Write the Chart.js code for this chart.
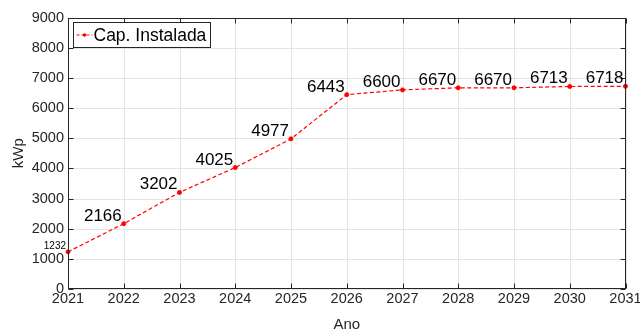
<!DOCTYPE html>
<html>
<head>
<meta charset="utf-8">
<script src="https://cdn.jsdelivr.net/npm/chart.js@4/dist/chart.umd.min.js"></script>
<style>
  html, body { margin: 0; padding: 0; background: #fff; }
  #wrap { width: 640px; height: 331px; position: relative; }
</style>
</head>
<body>
<div id="wrap"><canvas id="c" width="640" height="331"></canvas></div>
<script>
// Installed capacity per year
const years = [2021, 2022, 2023, 2024, 2025, 2026, 2027, 2028, 2029, 2030, 2031];
const capacity = [1232, 2166, 3202, 4025, 4977, 6443, 6600, 6670, 6670, 6713, 6718];
const xTicks = [2021, 2022, 2023, 2024, 2025, 2026, 2027, 2028, 2029, 2030, 2031];
const yTicks = [0, 1000, 2000, 3000, 4000, 5000, 6000, 7000, 8000, 9000];
const seriesName = 'Cap. Instalada';
const xTitle = 'Ano';
const yTitle = 'kWp';

const FONT = '"Liberation Sans", Arial, Helvetica, sans-serif';
const AXIS_COLOR = '#262626';
const GRID_COLOR = '#e5e5e5';
const RED = '#ff0000';

// Frame, inward ticks, axis titles, value labels and legend
const matlabAxes = {
  id: 'matlabAxes',
  beforeDatasetsDraw(chart) {
    const { ctx, chartArea: a, scales: { x, y } } = chart;
    ctx.save();
    ctx.strokeStyle = GRID_COLOR;
    ctx.lineWidth = 1;
    ctx.beginPath();
    xTicks.forEach(v => { const px = Math.round(x.getPixelForValue(v)) + 0.5; ctx.moveTo(px, a.top); ctx.lineTo(px, a.bottom); });
    yTicks.forEach(v => { const py = Math.round(y.getPixelForValue(v)) + 0.5; ctx.moveTo(a.left, py); ctx.lineTo(a.right, py); });
    ctx.stroke();
    ctx.restore();
  },
  afterDatasetsDraw(chart) {
    const { ctx, chartArea: a, scales: { x, y } } = chart;
    ctx.save();
    // box
    ctx.strokeStyle = AXIS_COLOR;
    ctx.lineWidth = 1;
    const L = Math.round(a.left) + 0.5, R = Math.round(a.right) - 0.5;
    const T = Math.round(a.top) + 0.5, B = Math.round(a.bottom) - 0.5;
    ctx.strokeRect(L, T, R - L, B - T);
    // inward ticks
    const tl = 5;
    ctx.beginPath();
    xTicks.forEach(v => {
      const px = Math.round(x.getPixelForValue(v)) + 0.5;
      ctx.moveTo(px, B); ctx.lineTo(px, B - tl);
      ctx.moveTo(px, T); ctx.lineTo(px, T + tl);
    });
    yTicks.forEach(v => {
      const py = Math.round(y.getPixelForValue(v)) + 0.5;
      ctx.moveTo(L, py); ctx.lineTo(L + tl, py);
      ctx.moveTo(R, py); ctx.lineTo(R - tl, py);
    });
    ctx.stroke();

    // tick labels
    ctx.fillStyle = AXIS_COLOR;
    ctx.font = '14.5px ' + FONT;
    ctx.textAlign = 'center';
    ctx.textBaseline = 'top';
    xTicks.forEach(v => ctx.fillText(String(v), x.getPixelForValue(v), a.bottom + 3));
    ctx.textAlign = 'right';
    ctx.textBaseline = 'middle';
    yTicks.forEach(v => ctx.fillText(String(v), a.left - 4, y.getPixelForValue(v)));

    // axis titles
    ctx.font = '15px ' + FONT;
    ctx.textAlign = 'center';
    ctx.textBaseline = 'middle';
    ctx.fillText(xTitle, (a.left + a.right) / 2, 324.5);
    ctx.save();
    ctx.translate(19, (a.top + a.bottom) / 2);
    ctx.rotate(-Math.PI / 2);
    ctx.fillText(yTitle, 0, 0);
    ctx.restore();

    // value labels, right/bottom aligned to each point
    ctx.fillStyle = '#000';
    ctx.textAlign = 'right';
    ctx.textBaseline = 'alphabetic';
    const meta = chart.getDatasetMeta(0);
    meta.data.forEach((pt, i) => {
      ctx.font = (i === 0 ? '10px ' : '17px ') + FONT;
      ctx.fillText(String(capacity[i]), pt.x - 2, pt.y - 3);
    });

    // legend
    const lx = 73.5, ly = 22.5, lw = 137, lh = 25;
    ctx.fillStyle = '#fff';
    ctx.fillRect(lx, ly, lw, lh);
    ctx.strokeStyle = AXIS_COLOR;
    ctx.lineWidth = 1;
    ctx.strokeRect(lx, ly, lw, lh);
    const my = ly + lh / 2;
    ctx.strokeStyle = RED;
    ctx.setLineDash([3, 2]);
    ctx.beginPath(); ctx.moveTo(lx + 3, my); ctx.lineTo(lx + 19, my); ctx.stroke();
    ctx.setLineDash([]);
    ctx.fillStyle = RED;
    ctx.beginPath(); ctx.arc(lx + 11, my, 1.8, 0, Math.PI * 2); ctx.fill();
    ctx.fillStyle = '#000';
    ctx.font = '17.5px ' + FONT;
    ctx.textAlign = 'left';
    ctx.textBaseline = 'middle';
    ctx.fillText(seriesName, lx + 20, my + 1);
    ctx.restore();
  }
};

new Chart(document.getElementById('c'), {
  type: 'line',
  data: {
    datasets: [{
      label: seriesName,
      data: years.map((yr, i) => ({ x: yr, y: capacity[i] })),
      borderColor: RED,
      backgroundColor: RED,
      borderWidth: 1.2,
      borderDash: [4, 2.5],
      pointRadius: 2,
      pointBorderWidth: 1,
      pointBackgroundColor: RED,
      pointBorderColor: RED,
      tension: 0,
      clip: false
    }]
  },
  options: {
    responsive: false,
    animation: false,
    devicePixelRatio: 1,
    layout: { padding: { left: 0, top: 17.5, right: 14.5, bottom: 0 } },
    plugins: { legend: { display: false }, tooltip: { enabled: false } },
    scales: {
      x: {
        type: 'linear', min: 2021, max: 2031,
        grid: { display: false }, border: { display: false },
        ticks: { display: false, stepSize: 1 },
        afterFit(s) { s.height = 42; }
      },
      y: {
        min: 0, max: 9000,
        grid: { display: false }, border: { display: false },
        ticks: { display: false, stepSize: 1000 },
        afterFit(s) { s.width = 68; }
      }
    }
  },
  plugins: [matlabAxes]
});
</script>
</body>
</html>
